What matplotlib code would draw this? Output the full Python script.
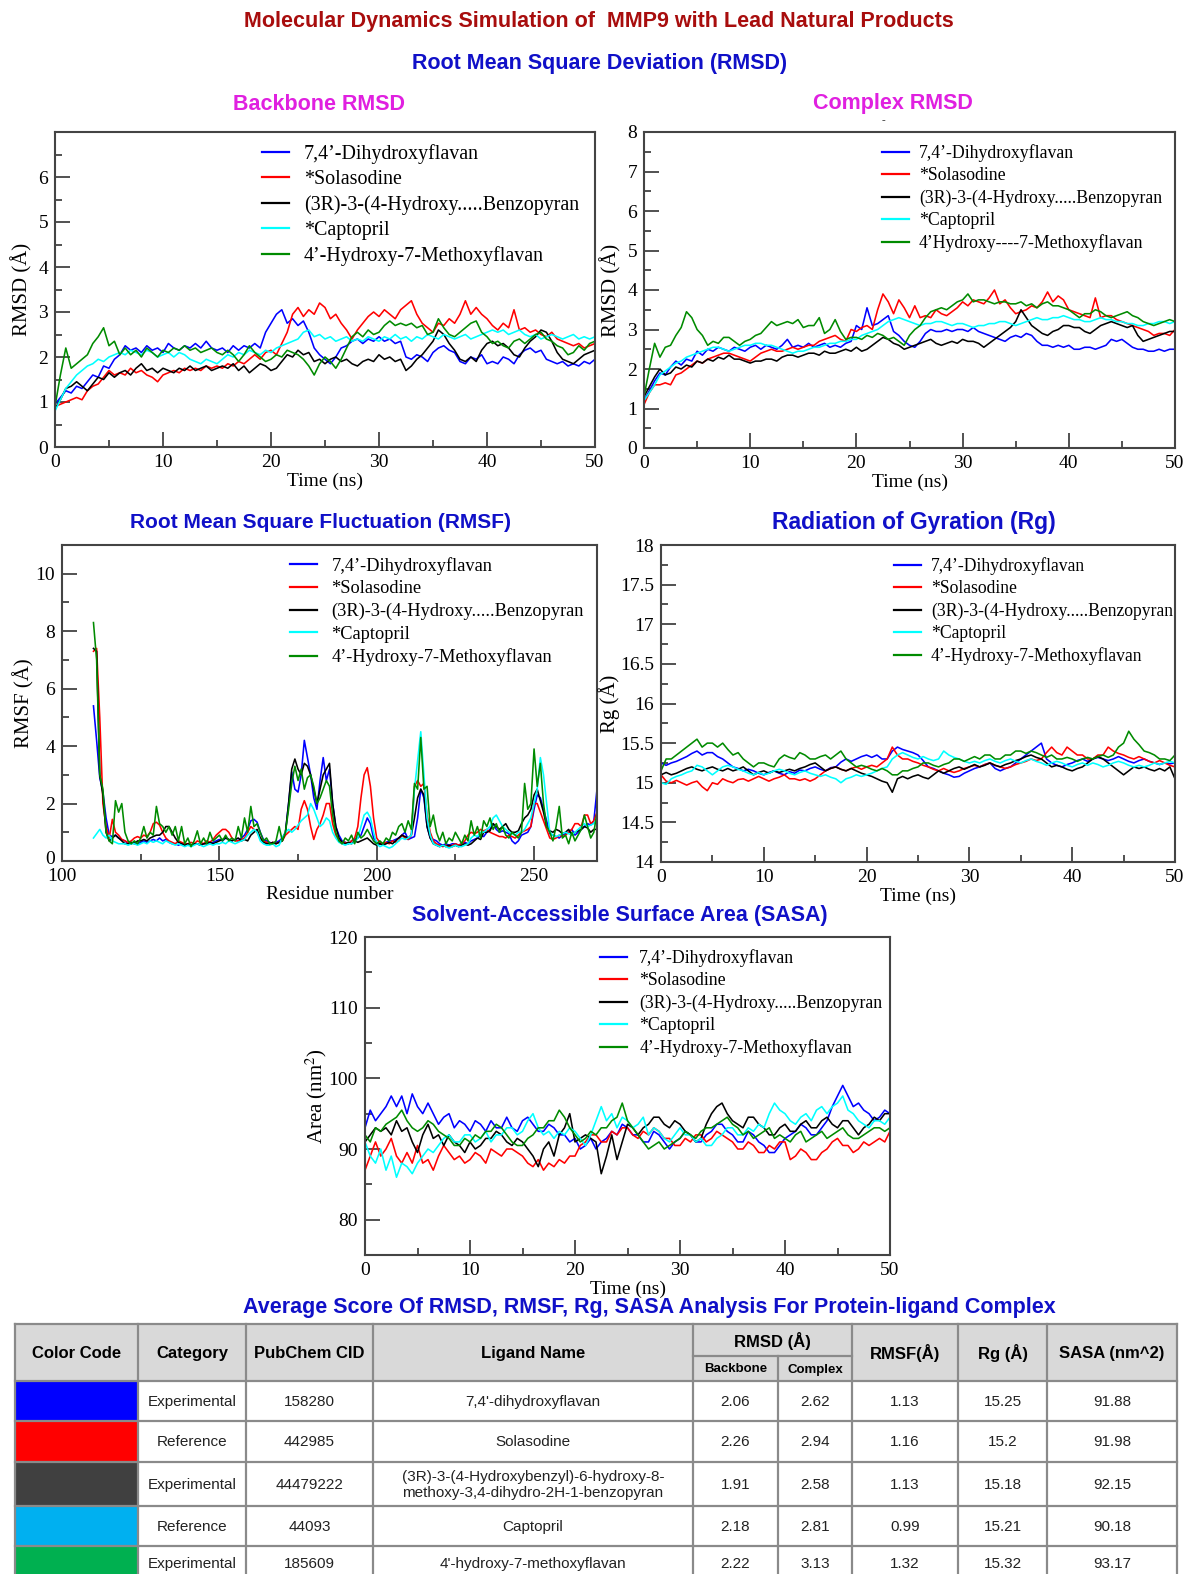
import numpy as np
import matplotlib
matplotlib.use('Agg')
import matplotlib.pyplot as plt
import matplotlib.transforms as mtransforms
from matplotlib.ticker import MultipleLocator, FixedLocator
from matplotlib.patches import Rectangle

plt.rcParams['font.family'] = 'serif'
plt.rcParams['font.serif'] = ['Liberation Serif', 'DejaVu Serif']
plt.rcParams['mathtext.fontset'] = 'stix'

# ---------------- data ----------------
labels_std = ["7,4\u2019-Dihydroxyflavan", "*Solasodine", "(3R)-3-(4-Hydroxy.....Benzopyran",
              "*Captopril", "4\u2019-Hydroxy-7-Methoxyflavan"]
labels_cx = ["7,4\u2019-Dihydroxyflavan", "*Solasodine", "(3R)-3-(4-Hydroxy.....Benzopyran",
             "*Captopril", "4\u2019Hydroxy----7-Methoxyflavan"]
line_colors = ['#0000ff', '#ff0000', '#000000', '#00ffff', '#008b00']

# Backbone RMSD (A), t = 0..50 ns every 0.5 ns
bb_blue = [0.95,1.10,1.25,1.20,1.35,1.30,1.45,1.60,1.55,1.80,1.75,1.95,2.05,2.25,2.15,2.20,2.10,2.25,2.15,2.20,
           2.10,2.30,2.20,2.15,2.25,2.20,2.30,2.20,2.35,2.20,2.15,2.20,2.10,2.25,2.15,2.25,2.20,2.30,2.20,2.55,
           2.75,2.95,3.05,2.75,2.85,2.70,2.80,2.55,2.20,2.05,1.95,1.85,2.00,2.20,2.25,2.35,2.40,2.30,2.40,2.35,
           2.45,2.35,2.40,2.30,2.35,2.00,1.95,2.05,2.00,1.90,2.10,2.20,2.25,2.15,2.10,1.90,1.85,2.00,1.95,2.05,
           1.85,1.90,1.85,2.00,1.95,1.85,2.05,2.15,2.20,2.10,2.15,1.95,1.90,1.85,1.90,1.80,1.85,1.80,1.90,1.85,1.95]
bb_red = [0.90,0.95,1.00,1.05,1.10,1.05,1.25,1.35,1.40,1.55,1.70,1.60,1.65,1.60,1.75,1.65,1.70,1.60,1.55,1.45,
          1.60,1.65,1.70,1.65,1.75,1.70,1.75,1.70,1.80,1.75,1.80,1.75,1.85,1.80,1.90,1.85,1.95,2.05,1.95,2.10,
          2.15,2.05,2.30,2.55,2.95,3.10,2.90,3.05,2.95,3.20,3.10,2.85,2.95,2.75,2.60,2.40,2.60,2.75,2.90,3.00,
          2.90,3.05,2.95,2.85,3.05,3.15,3.25,2.95,2.75,2.65,2.55,2.75,2.70,2.85,2.75,2.95,3.25,2.95,3.10,2.95,
          2.85,2.70,2.60,2.75,2.65,3.05,2.60,2.65,2.55,2.60,2.50,2.45,2.55,2.40,2.35,2.30,2.25,2.30,2.20,2.25,2.30]
bb_black = [0.85,1.05,1.30,1.35,1.45,1.35,1.25,1.40,1.55,1.50,1.65,1.55,1.65,1.70,1.60,1.75,1.85,1.70,1.75,1.65,
            1.75,1.70,1.65,1.75,1.70,1.80,1.70,1.75,1.80,1.70,1.75,1.80,1.75,1.85,1.70,1.80,1.65,1.75,1.85,1.80,
            1.70,1.75,1.90,2.05,2.00,2.15,2.05,2.10,1.90,1.95,1.85,1.95,2.00,1.90,1.95,1.85,1.80,1.90,1.95,1.90,
            2.05,1.95,2.00,1.90,1.95,1.70,1.80,1.95,2.05,2.20,2.35,2.60,2.50,2.30,2.15,1.95,1.90,2.00,1.90,2.15,
            2.30,2.35,2.25,2.30,2.20,2.05,2.00,2.20,2.35,2.45,2.60,2.55,2.35,2.10,1.95,1.90,1.85,1.95,2.05,2.10,2.15]
bb_cyan = [0.80,1.05,1.30,1.45,1.60,1.70,1.80,1.85,1.95,1.90,2.00,2.05,2.10,2.05,2.15,2.10,2.05,2.15,2.10,2.00,
           2.05,2.10,2.00,2.10,2.05,1.95,1.90,1.85,1.95,1.90,1.85,1.95,2.05,2.00,2.10,2.05,2.15,2.10,2.05,2.15,
           2.10,2.20,2.25,2.30,2.35,2.40,2.55,2.60,2.45,2.50,2.40,2.45,2.35,2.40,2.45,2.35,2.40,2.35,2.45,2.40,
           2.35,2.45,2.40,2.50,2.40,2.45,2.35,2.45,2.40,2.50,2.45,2.40,2.50,2.45,2.40,2.45,2.50,2.40,2.45,2.50,
           2.55,2.60,2.55,2.60,2.50,2.55,2.60,2.50,2.45,2.50,2.40,2.45,2.50,2.45,2.40,2.45,2.50,2.40,2.45,2.40,2.45]
bb_green = [0.90,1.60,2.20,1.75,1.85,1.95,2.05,2.30,2.45,2.65,2.25,2.35,2.05,2.20,2.05,2.15,2.00,2.20,2.10,2.00,
            2.15,2.10,2.20,2.15,2.25,2.15,2.20,2.10,2.15,2.20,2.10,2.05,2.15,2.05,1.90,2.05,2.25,2.10,2.00,1.90,
            1.95,2.05,2.00,2.15,2.10,2.05,1.95,1.80,1.60,1.85,2.00,1.90,1.75,1.95,2.20,2.45,2.55,2.45,2.60,2.50,
            2.55,2.70,2.80,2.70,2.75,2.70,2.75,2.65,2.70,2.50,2.55,2.85,2.65,2.50,2.45,2.55,2.65,2.75,2.80,2.55,
            2.45,2.30,2.35,2.25,2.20,2.35,2.40,2.30,2.40,2.50,2.55,2.40,2.35,2.25,2.20,2.05,2.10,2.25,2.15,2.30,2.35]

# Complex RMSD (A)
cx_blue = [1.20,1.45,1.70,1.90,1.85,2.05,2.20,2.10,2.25,2.20,2.45,2.35,2.50,2.45,2.55,2.50,2.45,2.55,2.50,2.45,
           2.55,2.60,2.50,2.60,2.55,2.50,2.60,2.75,2.55,2.60,2.55,2.65,2.55,2.60,2.65,2.55,2.60,2.55,2.65,2.70,
           3.10,3.00,3.55,3.10,3.15,3.25,3.35,2.95,2.85,2.70,2.60,2.55,2.70,2.90,3.00,2.95,2.95,3.00,2.95,3.00,
           3.00,2.95,3.05,2.95,2.90,2.85,2.80,2.75,2.70,2.80,2.85,2.80,2.90,2.85,2.70,2.60,2.60,2.55,2.60,2.55,
           2.60,2.50,2.50,2.55,2.55,2.50,2.55,2.60,2.75,2.70,2.75,2.65,2.55,2.50,2.50,2.45,2.45,2.50,2.45,2.50,2.50]
cx_red = [1.10,1.40,1.60,1.60,1.65,1.60,1.85,1.90,2.00,2.10,2.20,2.15,2.25,2.30,2.35,2.40,2.40,2.35,2.30,2.25,
          2.20,2.30,2.40,2.45,2.50,2.45,2.45,2.50,2.55,2.50,2.55,2.60,2.60,2.70,2.75,2.80,2.85,2.75,2.70,3.00,
          2.95,3.05,3.10,3.00,3.50,3.90,3.70,3.40,3.75,3.55,3.30,3.60,3.30,3.35,3.30,3.50,3.40,3.35,3.45,3.55,
          3.70,3.60,3.75,3.70,3.65,3.80,4.00,3.65,3.75,3.55,3.40,3.45,3.50,3.60,3.55,3.70,3.95,3.70,3.85,3.75,
          3.50,3.45,3.40,3.35,3.30,3.80,3.30,3.35,3.35,3.25,3.20,3.15,3.10,3.05,3.00,2.95,2.85,2.90,2.90,2.85,3.00]
cx_black = [1.30,1.55,1.80,2.00,1.85,1.90,2.05,2.00,2.10,2.05,2.20,2.15,2.25,2.20,2.30,2.25,2.35,2.25,2.25,2.20,
            2.15,2.20,2.20,2.25,2.25,2.20,2.30,2.35,2.35,2.30,2.35,2.40,2.40,2.35,2.45,2.40,2.40,2.45,2.50,2.45,
            2.55,2.45,2.50,2.60,2.70,2.80,2.75,2.65,2.60,2.50,2.55,2.60,2.65,2.70,2.75,2.65,2.60,2.65,2.70,2.65,
            2.75,2.70,2.70,2.65,2.55,2.65,2.75,2.85,2.95,3.05,3.20,3.50,3.30,3.10,3.00,2.90,2.85,2.95,3.00,3.10,
            3.10,3.05,3.05,2.95,2.90,3.00,3.10,3.15,3.20,3.15,3.10,3.05,3.10,2.85,2.70,2.75,2.80,2.85,2.90,2.95,2.95]
cx_cyan = [1.20,1.40,1.60,1.85,1.95,2.05,2.15,2.20,2.30,2.35,2.40,2.45,2.50,2.55,2.55,2.50,2.45,2.50,2.55,2.60,
           2.60,2.65,2.65,2.60,2.60,2.55,2.50,2.45,2.40,2.45,2.45,2.50,2.55,2.55,2.60,2.65,2.65,2.70,2.70,2.75,
           2.75,2.85,2.90,2.95,3.00,3.10,3.20,3.25,3.30,3.25,3.20,3.15,3.10,3.15,3.15,3.20,3.20,3.15,3.10,3.15,
           3.15,3.10,3.05,3.10,3.10,3.15,3.15,3.20,3.20,3.15,3.10,3.15,3.20,3.25,3.30,3.25,3.25,3.30,3.30,3.35,
           3.30,3.25,3.25,3.20,3.20,3.25,3.30,3.25,3.25,3.20,3.20,3.15,3.15,3.10,3.10,3.15,3.15,3.20,3.20,3.15,3.20]
cx_green = [1.30,2.00,2.65,2.30,2.55,2.60,2.85,3.05,3.45,3.30,3.00,2.85,2.60,2.70,2.65,2.80,2.80,2.70,2.60,2.70,
            2.75,2.85,2.90,3.05,3.20,3.10,3.15,3.20,3.15,3.25,3.05,3.10,3.10,3.30,2.90,3.00,3.25,2.95,2.75,2.80,
            2.80,2.75,2.85,2.80,2.90,2.85,2.75,2.80,2.70,2.60,2.85,3.00,3.10,3.30,3.45,3.50,3.55,3.50,3.60,3.70,
            3.75,3.90,3.70,3.75,3.75,3.70,3.65,3.70,3.70,3.65,3.65,3.70,3.60,3.65,3.55,3.65,3.70,3.60,3.60,3.55,
            3.50,3.40,3.30,3.40,3.40,3.50,3.45,3.35,3.30,3.35,3.40,3.45,3.35,3.30,3.20,3.15,3.10,3.15,3.20,3.25,3.20]

# RMSF (A), residues 110..270
rmsf_blue = [5.4,4.2,2.9,2.4,1.5,0.9,0.85,0.9,0.8,0.75,
             0.7,0.6,0.6,0.65,0.6,0.65,0.7,0.65,0.7,0.75,
             0.7,0.8,0.7,0.75,0.65,0.6,0.6,0.55,0.6,0.55,
             0.6,0.55,0.6,0.6,0.55,0.6,0.65,0.6,0.65,0.7,
             0.75,0.7,0.8,0.75,0.7,0.75,0.7,0.8,0.9,1.1,
             1.4,1.45,1.35,1.0,0.75,0.7,0.65,0.6,0.65,0.7,
             0.8,1.0,2.0,3.1,2.5,2.4,3.0,4.2,3.6,3.0,
             2.2,1.8,2.8,3.6,2.8,3.2,2.0,1.2,0.9,0.7,
             0.65,0.6,0.7,0.75,0.8,0.9,1.2,1.5,1.3,0.8,
             0.65,0.6,0.6,0.65,0.7,0.7,0.75,0.8,0.9,1.0,
             0.75,0.8,0.85,1.5,2.5,2.2,1.2,0.8,0.75,0.7,
             0.6,0.55,0.6,0.55,0.6,0.6,0.55,0.6,0.65,0.6,
             0.7,0.75,0.8,0.9,0.85,1.0,1.1,1.3,1.1,1.0,
             1.05,1.0,0.95,0.7,0.6,0.7,0.9,0.95,1.0,1.2,
             1.8,2.3,2.2,1.8,1.4,0.95,0.9,0.85,0.8,0.9,
             0.95,1.0,1.1,0.9,1.0,1.1,1.2,1.3,1.25,1.4,
             2.5]
rmsf_red = [7.3,7.4,5.0,2.0,1.2,0.8,1.45,1.0,0.9,0.75,
            0.7,0.65,0.7,0.8,0.85,0.8,0.9,0.85,1.0,1.3,
            1.35,1.25,1.0,0.8,0.7,0.65,0.6,0.7,0.65,0.6,
            0.6,0.65,0.6,0.7,0.65,0.6,0.7,0.65,0.75,0.9,
            1.0,1.1,1.1,1.0,0.8,0.7,0.7,0.75,0.8,1.0,
            1.2,1.1,1.0,0.8,0.7,0.65,0.6,0.65,0.6,0.65,
            0.7,0.9,1.0,1.1,1.2,1.1,1.8,2.1,1.8,1.2,
            0.75,1.1,1.3,1.6,2.0,2.0,1.3,0.9,0.7,0.6,
            0.65,0.6,0.7,0.8,1.2,2.2,3.0,3.25,2.6,1.5,
            0.8,0.65,0.6,0.65,0.6,0.7,0.65,0.7,0.9,0.8,
            0.75,0.9,2.6,2.8,2.6,2.7,1.6,1.0,0.7,0.6,
            0.55,0.5,0.55,0.5,0.55,0.6,0.55,0.6,0.7,0.9,
            1.0,0.95,1.0,1.1,1.05,1.1,1.0,0.95,0.9,0.85,
            0.85,0.8,0.9,0.85,0.8,0.9,1.0,1.05,1.1,1.2,
            2.0,2.0,1.7,1.4,1.1,0.8,0.75,0.8,0.9,0.85,
            0.9,1.0,1.1,1.3,1.3,1.2,1.6,1.6,1.3,1.4,
            1.7]
rmsf_black = [7.4,7.3,3.0,2.3,1.0,0.7,0.8,0.9,0.8,0.7,
              0.6,0.6,0.65,0.6,0.7,0.7,0.75,0.7,0.8,0.85,
              0.9,0.9,1.0,1.2,1.2,1.0,0.8,0.65,0.6,0.55,
              0.6,0.55,0.6,0.6,0.55,0.6,0.6,0.65,0.6,0.65,
              0.7,0.75,0.8,0.75,0.7,0.75,0.8,0.7,0.75,0.7,
              0.9,1.0,1.1,0.8,0.65,0.6,0.6,0.65,0.6,0.65,
              0.7,1.0,2.0,3.2,3.55,3.2,3.0,3.4,3.3,3.0,
              2.5,2.0,2.5,3.0,3.2,3.4,2.0,1.2,0.8,0.65,
              0.6,0.65,0.6,0.7,0.65,0.7,0.75,0.8,0.7,0.6,
              0.55,0.6,0.55,0.6,0.65,0.6,0.7,0.8,0.9,0.85,
              0.8,0.9,1.5,2.2,2.5,2.3,1.2,0.8,0.6,0.55,
              0.5,0.55,0.5,0.55,0.5,0.55,0.5,0.55,0.6,0.55,
              0.6,0.7,0.8,0.75,1.0,1.0,1.05,1.3,1.2,1.1,
              1.2,1.3,1.1,1.0,1.0,1.05,1.3,1.5,1.6,1.8,
              2.3,2.5,2.1,1.7,1.2,1.05,1.0,1.1,1.05,0.95,
              1.0,1.1,0.9,1.0,1.05,1.1,1.2,1.15,1.0,1.1,
              1.1]
rmsf_cyan = [0.8,0.95,1.1,0.9,0.8,0.9,0.7,0.65,0.6,0.6,
             0.6,0.55,0.6,0.6,0.55,0.6,0.65,0.6,0.7,0.65,
             0.7,0.65,0.6,0.7,0.65,0.6,0.55,0.6,0.55,0.5,
             0.55,0.5,0.55,0.6,0.55,0.5,0.55,0.6,0.55,0.6,
             0.6,0.65,0.6,0.7,0.65,0.6,0.65,0.7,0.75,0.9,
             1.0,1.1,1.0,0.7,0.6,0.55,0.55,0.6,0.5,0.55,
             0.8,1.0,1.1,1.0,1.1,1.25,1.4,1.5,1.6,2.0,
             1.8,1.5,1.2,1.3,1.5,1.4,1.0,0.8,0.65,0.6,
             0.55,0.6,0.6,0.65,0.8,1.2,1.6,1.7,1.5,1.0,
             0.6,0.5,0.55,0.5,0.45,0.5,0.6,0.7,0.8,0.75,
             0.8,0.9,2.5,3.5,4.5,3.0,1.5,0.9,0.6,0.55,
             0.5,0.55,0.5,0.45,0.5,0.55,0.5,0.5,0.55,0.6,
             0.8,0.9,0.85,1.0,1.0,1.1,1.2,1.5,1.6,1.4,
             1.2,1.1,1.0,0.95,0.9,1.0,1.0,1.1,1.3,1.5,
             2.0,2.5,3.6,3.0,2.0,1.0,0.9,0.85,0.9,0.95,
             1.0,0.95,0.9,1.0,1.1,1.2,1.3,1.2,1.25,1.3,
             1.5]
rmsf_green = [8.3,7.0,3.0,2.5,1.0,0.7,0.6,2.1,1.7,2.0,
              1.0,0.7,0.6,0.7,0.6,0.8,1.2,0.8,1.0,0.9,
              1.9,1.3,1.2,1.0,1.2,0.9,1.2,0.7,1.2,0.6,
              0.8,0.5,0.7,1.05,0.6,0.8,0.6,1.0,0.7,0.8,
              0.9,0.7,0.9,0.7,0.8,0.7,1.2,0.8,1.5,1.0,
              1.9,1.2,1.3,1.0,0.7,0.8,0.6,0.6,0.7,1.2,
              0.7,1.0,1.8,2.7,3.3,2.8,3.2,2.5,2.9,3.0,
              2.6,2.0,2.2,2.5,2.8,2.6,1.6,1.0,0.7,0.6,
              0.8,0.7,0.9,0.6,1.0,0.8,0.9,1.1,0.9,0.7,
              0.6,0.7,0.6,0.8,0.7,1.0,0.9,1.2,1.3,1.0,
              1.4,1.1,2.7,2.5,4.3,2.5,2.6,1.2,1.6,1.0,
              0.7,1.0,0.6,0.8,0.7,1.0,0.8,0.6,0.9,0.7,
              1.4,0.9,1.2,0.8,1.4,1.2,1.5,1.1,1.3,1.0,
              1.2,0.9,0.8,1.0,0.9,0.8,1.0,2.7,1.8,2.0,
              3.9,2.6,3.4,2.0,1.2,1.0,0.7,1.2,1.9,0.8,
              0.9,0.6,1.0,0.7,0.9,1.1,1.6,1.2,0.8,1.0,
              1.7]
residues = np.arange(110, 271)

# Radius of gyration (A)
rg_blue = [15.25,15.22,15.25,15.27,15.30,15.33,15.37,15.40,15.35,15.38,15.38,15.33,15.30,15.25,15.20,15.18,15.15,15.17,15.15,15.12,
           15.10,15.13,15.15,15.12,15.10,15.14,15.12,15.16,15.15,15.18,15.20,15.17,15.15,15.19,15.20,15.26,15.30,15.27,15.30,15.33,
           15.35,15.32,15.35,15.30,15.30,15.40,15.45,15.42,15.40,15.38,15.35,15.28,15.20,15.18,15.15,15.12,15.10,15.07,15.08,15.12,
           15.15,15.18,15.20,15.23,15.25,15.18,15.15,15.18,15.20,15.25,15.30,15.35,15.40,15.45,15.50,15.30,15.25,15.22,15.20,15.23,
           15.25,15.28,15.30,15.27,15.30,15.32,15.30,15.28,15.30,15.33,15.30,15.27,15.25,15.28,15.30,15.27,15.25,15.23,15.25,15.24,15.25]
rg_red = [15.10,15.02,15.00,15.03,15.00,14.97,15.00,15.02,14.95,14.90,15.00,14.98,15.05,15.02,15.00,15.04,15.05,15.02,15.05,15.08,
          15.05,15.02,15.05,15.07,15.10,15.05,15.05,15.03,15.05,15.02,15.05,15.10,15.15,15.18,15.20,15.17,15.15,15.18,15.20,15.17,
          15.20,15.22,15.20,15.25,15.30,15.45,15.35,15.30,15.30,15.27,15.25,15.22,15.20,15.17,15.15,15.18,15.15,15.13,15.15,15.18,
          15.20,15.22,15.20,15.23,15.25,15.22,15.20,15.18,15.20,15.23,15.25,15.27,15.30,15.28,15.30,15.38,15.45,15.38,15.35,15.45,
          15.40,15.35,15.35,15.30,15.30,15.35,15.35,15.45,15.40,15.37,15.35,15.32,15.30,15.33,15.30,15.27,15.25,15.28,15.25,15.22,15.20]
rg_black = [15.10,15.13,15.10,15.12,15.15,15.18,15.20,15.17,15.15,15.18,15.20,15.17,15.15,15.18,15.15,15.17,15.20,15.15,15.10,15.13,
            15.15,15.12,15.15,15.13,15.15,15.17,15.15,15.18,15.20,15.23,15.25,15.20,15.15,15.18,15.20,15.17,15.15,15.18,15.15,15.12,
            15.10,15.08,15.05,15.02,15.00,14.88,15.05,15.08,15.05,15.08,15.10,15.07,15.05,15.10,15.15,15.12,15.15,15.18,15.20,15.17,
            15.20,15.23,15.20,15.22,15.25,15.22,15.20,15.23,15.25,15.28,15.30,15.33,15.35,15.32,15.30,15.25,15.20,15.22,15.20,15.17,
            15.15,15.18,15.20,15.25,15.30,15.33,15.30,15.25,15.20,15.15,15.10,15.15,15.20,15.18,15.20,15.17,15.15,15.18,15.15,15.20,15.05]
rg_cyan = [15.00,14.98,15.05,15.08,15.10,15.13,15.15,15.22,15.20,15.15,15.10,15.15,15.20,15.22,15.20,15.17,15.15,15.12,15.10,15.13,
           15.10,15.12,15.15,15.17,15.15,15.12,15.10,15.13,15.15,15.12,15.10,15.08,15.10,15.07,15.05,15.00,15.05,15.07,15.10,15.08,
           15.10,15.12,15.15,15.18,15.20,15.30,15.35,15.38,15.35,15.32,15.30,15.33,15.30,15.28,15.30,15.40,15.35,15.32,15.30,15.27,
           15.25,15.27,15.25,15.28,15.30,15.27,15.25,15.28,15.30,15.27,15.25,15.28,15.30,15.27,15.25,15.22,15.25,15.27,15.25,15.22,
           15.20,15.23,15.25,15.22,15.25,15.23,15.20,15.22,15.25,15.27,15.25,15.22,15.20,15.22,15.20,15.22,15.25,15.23,15.25,15.27,15.25]
rg_green = [15.15,15.30,15.30,15.35,15.40,15.45,15.50,15.55,15.45,15.50,15.50,15.45,15.50,15.42,15.35,15.38,15.30,15.25,15.20,15.25,
            15.25,15.22,15.20,15.30,15.35,15.32,15.30,15.38,15.35,15.30,15.30,15.33,15.35,15.30,15.35,15.40,15.30,15.25,15.20,15.22,
            15.20,15.17,15.15,15.18,15.15,15.10,15.10,15.15,15.15,15.18,15.20,15.25,15.25,15.22,15.20,15.23,15.25,15.30,15.30,15.27,
            15.30,15.33,15.30,15.35,15.35,15.30,15.30,15.35,15.35,15.40,15.40,15.37,15.40,15.38,15.35,15.32,15.35,15.30,15.30,15.32,
            15.30,15.27,15.30,15.32,15.30,15.33,15.35,15.32,15.35,15.45,15.50,15.65,15.55,15.48,15.40,15.38,15.35,15.30,15.30,15.28,15.35]

# SASA (nm^2)
sasa_blue = [93.0,95.5,94.0,95.0,96.0,97.5,96.0,97.5,95.0,97.8,96.0,95.0,96.5,95.0,93.5,94.5,95.0,93.0,94.0,93.5,
             92.5,94.0,93.5,92.5,94.0,93.0,93.0,94.5,93.0,92.5,94.0,94.5,93.5,92.5,92.5,93.5,93.0,92.0,92.0,91.0,
             91.5,90.0,90.5,91.5,90.0,91.0,91.5,92.5,92.0,93.5,93.0,92.0,92.0,91.0,91.0,92.5,92.0,91.0,90.0,91.0,
             91.5,92.5,92.0,91.0,91.0,92.0,92.5,93.5,93.5,92.5,92.0,91.0,91.0,92.5,92.0,91.0,90.5,89.5,89.5,90.5,
             91.5,92.0,92.5,93.5,93.0,92.0,92.0,93.0,94.0,96.0,97.5,99.0,97.5,96.0,96.5,95.5,95.0,94.0,94.5,95.5,95.0]
sasa_red = [87.0,89.0,91.0,89.0,90.0,91.5,89.0,88.0,89.5,88.0,90.5,88.0,88.5,87.0,89.0,90.5,89.5,88.5,89.0,88.0,
            88.5,89.5,89.0,88.0,90.0,89.5,89.0,90.0,90.0,89.5,89.0,88.0,87.5,88.5,87.0,88.0,87.5,88.5,88.0,89.0,
            89.0,90.5,91.0,92.0,92.0,91.0,91.0,92.5,92.0,93.0,93.0,92.0,91.5,92.5,92.0,93.0,92.5,91.5,91.5,90.5,
            90.5,91.5,91.0,92.0,92.0,91.0,91.5,92.5,92.0,91.5,91.0,90.0,90.0,91.0,90.5,89.5,89.5,90.5,90.0,91.0,
            91.0,88.5,89.0,90.0,89.5,88.5,88.5,89.5,90.0,91.0,91.5,90.5,90.5,89.5,90.0,91.0,90.5,91.0,91.5,91.0,92.5]
sasa_black = [91.0,92.0,93.0,92.5,93.0,92.0,94.0,92.5,93.0,91.0,89.5,92.0,93.5,91.5,92.0,90.5,92.0,91.0,90.5,89.5,
              91.0,90.0,90.5,91.5,91.5,92.5,92.0,91.0,90.5,91.5,91.0,90.0,89.0,87.5,90.0,91.0,89.0,92.0,93.0,95.0,
              91.0,91.5,92.0,91.5,91.0,86.5,89.0,92.0,88.5,91.0,93.5,93.0,92.0,93.0,93.5,94.5,94.5,93.5,93.0,94.0,
              93.5,92.5,92.0,91.0,91.5,93.5,95.0,96.0,96.5,95.0,94.0,93.5,93.0,94.5,94.5,93.5,93.0,92.0,92.0,93.0,
              93.5,92.5,92.5,93.5,94.0,93.0,93.0,94.0,94.5,93.5,93.0,94.0,94.0,93.0,92.0,93.0,93.5,94.5,94.0,95.0,95.0]
sasa_cyan = [91.0,89.0,88.0,90.0,87.0,89.0,86.0,88.0,87.5,86.5,88.0,89.0,90.0,89.5,90.5,91.5,92.0,91.0,91.0,92.0,
             92.0,91.0,91.5,92.5,91.0,92.0,92.0,93.0,93.0,92.0,92.5,94.0,95.0,93.0,92.0,92.5,91.5,92.5,92.0,93.0,
             92.5,91.5,90.5,92.0,94.0,96.0,94.0,95.0,93.0,94.5,94.0,93.0,93.5,94.5,92.0,93.0,92.5,91.5,91.0,92.0,
             93.0,92.0,92.0,91.0,91.5,90.5,90.5,91.5,92.0,93.0,93.0,92.0,92.0,93.0,92.5,93.5,93.0,95.0,96.5,95.5,
             95.0,94.0,93.5,94.5,95.0,94.0,95.5,96.0,95.0,96.0,96.5,97.5,95.5,95.0,94.0,93.5,93.0,94.0,94.0,93.5,94.5]
sasa_green = [92.0,91.0,93.0,92.5,93.5,94.0,94.5,95.5,94.0,93.0,92.5,93.0,94.0,93.5,92.5,92.0,91.5,90.5,90.5,91.5,
              91.0,92.0,91.5,92.5,92.5,93.5,93.0,92.0,91.0,90.5,90.5,91.5,92.0,93.0,93.0,94.0,94.0,95.5,94.5,93.0,
              92.0,91.0,91.5,92.5,92.0,93.0,93.0,94.0,94.5,96.5,94.0,93.0,92.0,91.0,90.0,90.5,91.0,90.0,90.5,91.0,
              91.5,92.5,92.0,91.5,92.5,93.0,93.0,93.5,94.0,94.5,93.5,93.0,92.0,92.5,91.5,92.0,92.5,93.0,91.5,92.0,
              91.5,91.0,92.0,92.5,91.0,91.5,92.0,92.5,91.5,92.0,92.5,93.0,92.0,91.5,91.5,92.0,92.5,93.0,93.0,92.5,93.0]

# Table
tab_swatch = ['#0000ff', '#ff0000', '#404040', '#00b0f0', '#00b050']
tab_category = ['Experimental', 'Reference', 'Experimental', 'Reference', 'Experimental']
tab_cid = ['158280', '442985', '44479222', '44093', '185609']
tab_ligand = ['7,4\'-dihydroxyflavan', 'Solasodine',
              '(3R)-3-(4-Hydroxybenzyl)-6-hydroxy-8-\nmethoxy-3,4-dihydro-2H-1-benzopyran',
              'Captopril', '4\'-hydroxy-7-methoxyflavan']
tab_backbone = ['2.06', '2.26', '1.91', '2.18', '2.22']
tab_complex = ['2.62', '2.94', '2.58', '2.81', '3.13']
tab_rmsf = ['1.13', '1.16', '1.13', '0.99', '1.32']
tab_rg = ['15.25', '15.2', '15.18', '15.21', '15.32']
tab_sasa = ['91.88', '91.98', '92.15', '90.18', '93.17']

# ---------------- layout ----------------
W, H = 1188, 1574
fig = plt.figure(figsize=(W / 100, H / 100), dpi=100)
SANS = ['Liberation Sans', 'DejaVu Sans']


def rect(l, t, r, b):
    return [l / W, 1 - b / H, (r - l) / W, (b - t) / H]


# overlay for titles and the table (pixel coordinates)
ov = fig.add_axes([0, 0, 1, 1])
ov.set_xlim(0, W)
ov.set_ylim(H, 0)
ov.axis('off')


def title(x, y, s, color, size=15.5):
    ov.text(x, y, s, ha='center', va='center', color=color, fontsize=size,
            fontweight='bold', family=SANS)


title(599, 22, 'Molecular Dynamics Simulation of  MMP9 with Lead Natural Products', '#a80d0d')
title(600, 63, 'Root Mean Square Deviation (RMSD)', '#1010c8')
title(319, 105, 'Backbone RMSD', '#e020e0')
title(893, 104, 'Complex RMSD', '#e020e0')
ov.text(883, 121, '-', ha='center', va='center', fontsize=8, color='#333333')
title(320, 522, 'Root Mean Square Fluctuation (RMSF)', '#1010c8', 15)
title(914, 522, 'Radiation of Gyration (Rg)', '#1010c8', 16.5)
title(620, 916, 'Solvent-Accessible Surface Area (SASA)', '#1010c8')
title(649, 1308, 'Average Score Of RMSD, RMSF, Rg, SASA Analysis For Protein-ligand Complex', '#1010c8')


def panel(box, series, xvals, xlim, ylim, xmajor, xminor, yticks, yminor, xlabel, ylabel,
          labels, leg_x, leg_fs, leg_pad, ylabelpad=4, yfmt='%g'):
    ax = fig.add_axes(rect(*box))
    for ys, c, lab in zip(series, line_colors, labels):
        xs = xvals if xvals is not None else np.linspace(xlim[0], xlim[1], len(ys))
        ax.plot(xs, ys, color=c, lw=1.15, label=lab)
    ax.set_xlim(*xlim)
    ax.set_ylim(*ylim)
    ax.xaxis.set_major_locator(FixedLocator(xmajor))
    ax.xaxis.set_minor_locator(MultipleLocator(xminor))
    ax.yaxis.set_major_locator(FixedLocator(yticks))
    ax.yaxis.set_minor_locator(MultipleLocator(yminor))
    ax.set_yticklabels([yfmt % v for v in yticks])
    ax.tick_params(which='both', direction='in', top=False, right=False, color='#333333',
                   width=1.2, labelsize=14)
    ax.tick_params(which='major', length=11, pad=5)
    ax.tick_params(which='minor', length=5)
    for sp in ax.spines.values():
        sp.set_color('#444444')
        sp.set_linewidth(1.5)
    ax.set_xlabel(xlabel, fontsize=14, labelpad=1)
    ax.set_ylabel(ylabel, fontsize=15, labelpad=ylabelpad)
    fs_px = leg_fs * 100 / 72
    leg = ax.legend(loc='upper left', bbox_to_anchor=(leg_x, 0.962), frameon=False, fontsize=leg_fs,
                    handlelength=27 / fs_px, handletextpad=leg_pad / fs_px, labelspacing=0.3,
                    borderaxespad=0, borderpad=0)
    for h in leg.get_lines():
        h.set_linewidth(1.6)
    return ax


panel((55, 132, 595, 447), [bb_blue, bb_red, bb_black, bb_cyan, bb_green], None,
      (0, 50), (0, 7), [0, 10, 20, 30, 40, 50], 5, [0, 1, 2, 3, 4, 5, 6], 0.5,
      'Time (ns)', 'RMSD (\u00c5)', labels_std, 0.383, 14.4, 15)
panel((644, 132, 1175, 448), [cx_blue, cx_red, cx_black, cx_cyan, cx_green], None,
      (0, 50), (0, 8), [0, 10, 20, 30, 40, 50], 5, [0, 1, 2, 3, 4, 5, 6, 7, 8], 0.5,
      'Time (ns)', 'RMSD (\u00c5)', labels_cx, 0.448, 12.8, 10)
ax_rmsf = panel((62, 545, 597, 861), [rmsf_blue, rmsf_red, rmsf_black, rmsf_cyan, rmsf_green], residues,
                (100, 270), (0, 11), [100, 150, 200, 250], 25, [0, 2, 4, 6, 8, 10], 1,
                'Residue number', 'RMSF (\u00c5)', labels_std, 0.427, 13.2, 14, ylabelpad=1)
# lift the "0" y label a little so it sits just above the "100" x label
for lab in ax_rmsf.get_yticklabels()[:1]:
    lab.set_transform(lab.get_transform() + mtransforms.ScaledTranslation(0, 4 / 100, fig.dpi_scale_trans))
panel((661, 545, 1175, 862), [rg_blue, rg_red, rg_black, rg_cyan, rg_green], None,
      (0, 50), (14, 18), [0, 10, 20, 30, 40, 50], 5,
      [14, 14.5, 15, 15.5, 16, 16.5, 17, 17.5, 18], 0.25,
      'Time (ns)', 'Rg (\u00c5)', labels_std, 0.453, 12.7, 10, ylabelpad=0)
panel((365, 937, 890, 1255), [sasa_blue, sasa_red, sasa_black, sasa_cyan, sasa_green], None,
      (0, 50), (75, 120), [0, 10, 20, 30, 40, 50], 5, [80, 90, 100, 110, 120], 5,
      'Time (ns)', 'Area (nm$^{2}$)', labels_std, 0.448, 12.8, 12, ylabelpad=0)

# ---------------- table ----------------
cols = [15, 138, 246, 373, 693, 778, 852, 958, 1047, 1177]
rows = [1324, 1381, 1421, 1462, 1506, 1546, 1582]
mid = 1356
grid_c = '#8a8a8a'

ov.add_patch(Rectangle((cols[0], rows[0]), cols[-1] - cols[0], rows[1] - rows[0],
                       facecolor='#d9d9d9', edgecolor='none', zorder=1))
for i, c in enumerate(tab_swatch):
    ov.add_patch(Rectangle((cols[0], rows[i + 1]), cols[1] - cols[0], rows[i + 2] - rows[i + 1],
                           facecolor=c, edgecolor='none', zorder=1))
for y in rows:
    ov.plot([cols[0], cols[-1]], [y, y], color=grid_c, lw=1.6, zorder=2)
ov.plot([cols[4], cols[6]], [mid, mid], color=grid_c, lw=1.6, zorder=2)
for j, x in enumerate(cols):
    if j == 5:
        ov.plot([x, x], [mid, rows[-1]], color=grid_c, lw=1.6, zorder=2)
    else:
        ov.plot([x, x], [rows[0], rows[-1]], color=grid_c, lw=1.6, zorder=2)


def cx_(j):
    return (cols[j] + cols[j + 1]) / 2


hdr_y = (rows[0] + rows[1]) / 2 + 1
for j, s in [(0, 'Color Code'), (1, 'Category'), (2, 'PubChem CID'), (3, 'Ligand Name'),
             (6, 'RMSF(\u00c5)'), (7, 'Rg (\u00c5)'), (8, 'SASA (nm^2)')]:
    ov.text(cx_(j), hdr_y, s, ha='center', va='center', fontsize=12, fontweight='bold',
            family=SANS, zorder=3)
ov.text((cols[4] + cols[6]) / 2, (rows[0] + mid) / 2 + 1, 'RMSD (\u00c5)', ha='center', va='center',
        fontsize=12, fontweight='bold', family=SANS, zorder=3)
ov.text(cx_(4), (mid + rows[1]) / 2 + 1, 'Backbone', ha='center', va='center', fontsize=9.5,
        fontweight='bold', family=SANS, zorder=3)
ov.text(cx_(5), (mid + rows[1]) / 2 + 1, 'Complex', ha='center', va='center', fontsize=9.5,
        fontweight='bold', family=SANS, zorder=3)

for i in range(len(tab_category)):
    yc = (rows[i + 1] + rows[i + 2]) / 2 + 1
    if i == 4:
        yc = rows[i + 1] + 18
    vals = [tab_category[i], tab_cid[i], tab_ligand[i], tab_backbone[i], tab_complex[i],
            tab_rmsf[i], tab_rg[i], tab_sasa[i]]
    for j, s in enumerate(vals, start=1):
        ov.text(cx_(j), yc, s, ha='center', va='center', fontsize=11, family=SANS,
                color='#222222', zorder=3, linespacing=1.1)

fig.savefig('out.png', dpi=100)
